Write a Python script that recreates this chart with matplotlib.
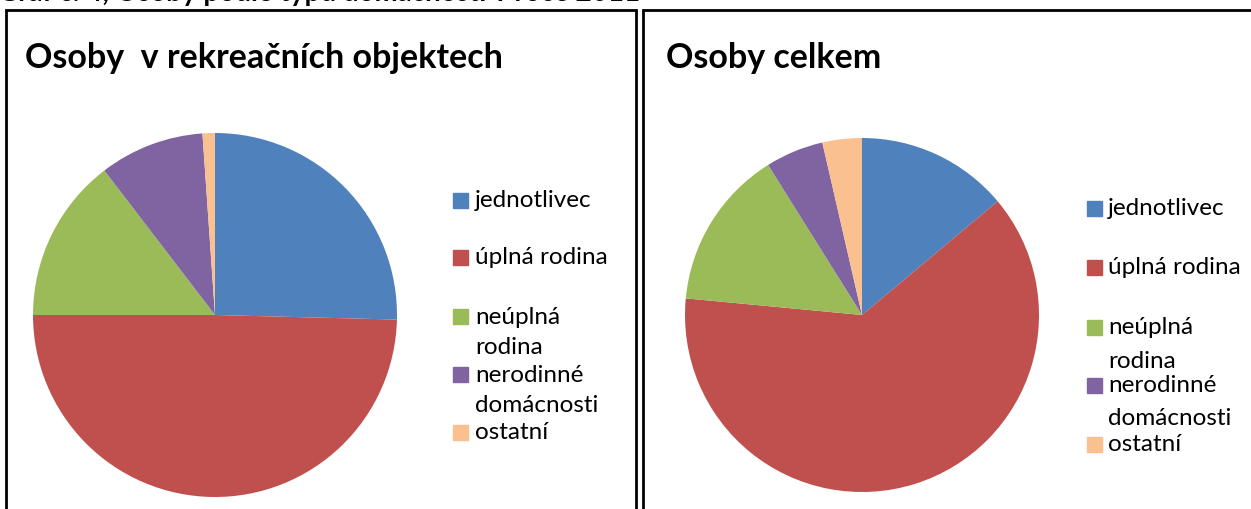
import matplotlib.pyplot as plt
from matplotlib.patches import Rectangle

plt.rcParams['font.family'] = ['Lato', 'DejaVu Sans']

# data (shares in %)
categories = ['jednotlivec', 'úplná rodina', 'neúplná rodina', 'nerodinné domácnosti', 'ostatní']
legend_lines = [['jednotlivec'], ['úplná rodina'], ['neúplná', 'rodina'],
                ['nerodinné', 'domácnosti'], ['ostatní']]
rekreacni = [25.4, 49.6, 14.6, 9.3, 1.1]
celkem = [13.9, 62.6, 14.6, 5.3, 3.6]
titles = ['Osoby  v rekreačních objektech', 'Osoby celkem']
colors = ['#4F81BD', '#C0504D', '#9BBB59', '#8064A2', '#FAC090']

W, H = 1251, 510
fig = plt.figure(figsize=(W / 100, H / 100), dpi=100)


def fx(px):
    return px / W


def fy(py):
    return 1 - py / H


# cut-off caption above the panels
fig.text(fx(-2), fy(0.5), 'Graf č. 4, Osoby podle typu domácnosti v roce 2011',
         fontsize=20, fontweight='bold', va='baseline', ha='left')

# panel frames
for x0, x1 in [(6, 636), (643, 1256)]:
    fig.patches.append(Rectangle((fx(x0), fy(520)), fx(x1 - x0), (520 - 11) / H,
                                 transform=fig.transFigure, fill=False,
                                 edgecolor='black', linewidth=2))

panels = [
    dict(vals=rekreacni, cx=215, cy=316, r=182, tx=25, sq=453, lx=475,
         ys=[201, 258, 317, 375, 433], ls=31),
    dict(vals=celkem, cx=862, cy=316, r=177, tx=666, sq=1087, lx=1108,
         ys=[209, 268, 328, 386, 445], ls=33),
]

for p, title in zip(panels, titles):
    ax = fig.add_axes([fx(p['cx'] - p['r']), fy(p['cy'] + p['r']),
                       fx(2 * p['r']), 2 * p['r'] / H])
    ax.pie(p['vals'], colors=colors, startangle=90, counterclock=False,
           wedgeprops=dict(linewidth=0))
    ax.set_xlim(-1, 1)
    ax.set_ylim(-1, 1)
    ax.set_aspect('equal')
    ax.axis('off')

    fig.text(fx(p['tx']), fy(68), title, fontsize=24.5, fontweight='bold',
             va='baseline', ha='left')

    for lines, y, c in zip(legend_lines, p['ys'], colors):
        fig.patches.append(Rectangle((fx(p['sq']), fy(y + 8)), fx(15), 15 / H,
                                     transform=fig.transFigure, color=c))
        for i, line in enumerate(lines):
            fig.text(fx(p['lx']), fy(y + i * p['ls']), line, fontsize=17.5,
                     va='center', ha='left')

fig.savefig('out.png', dpi=100)
